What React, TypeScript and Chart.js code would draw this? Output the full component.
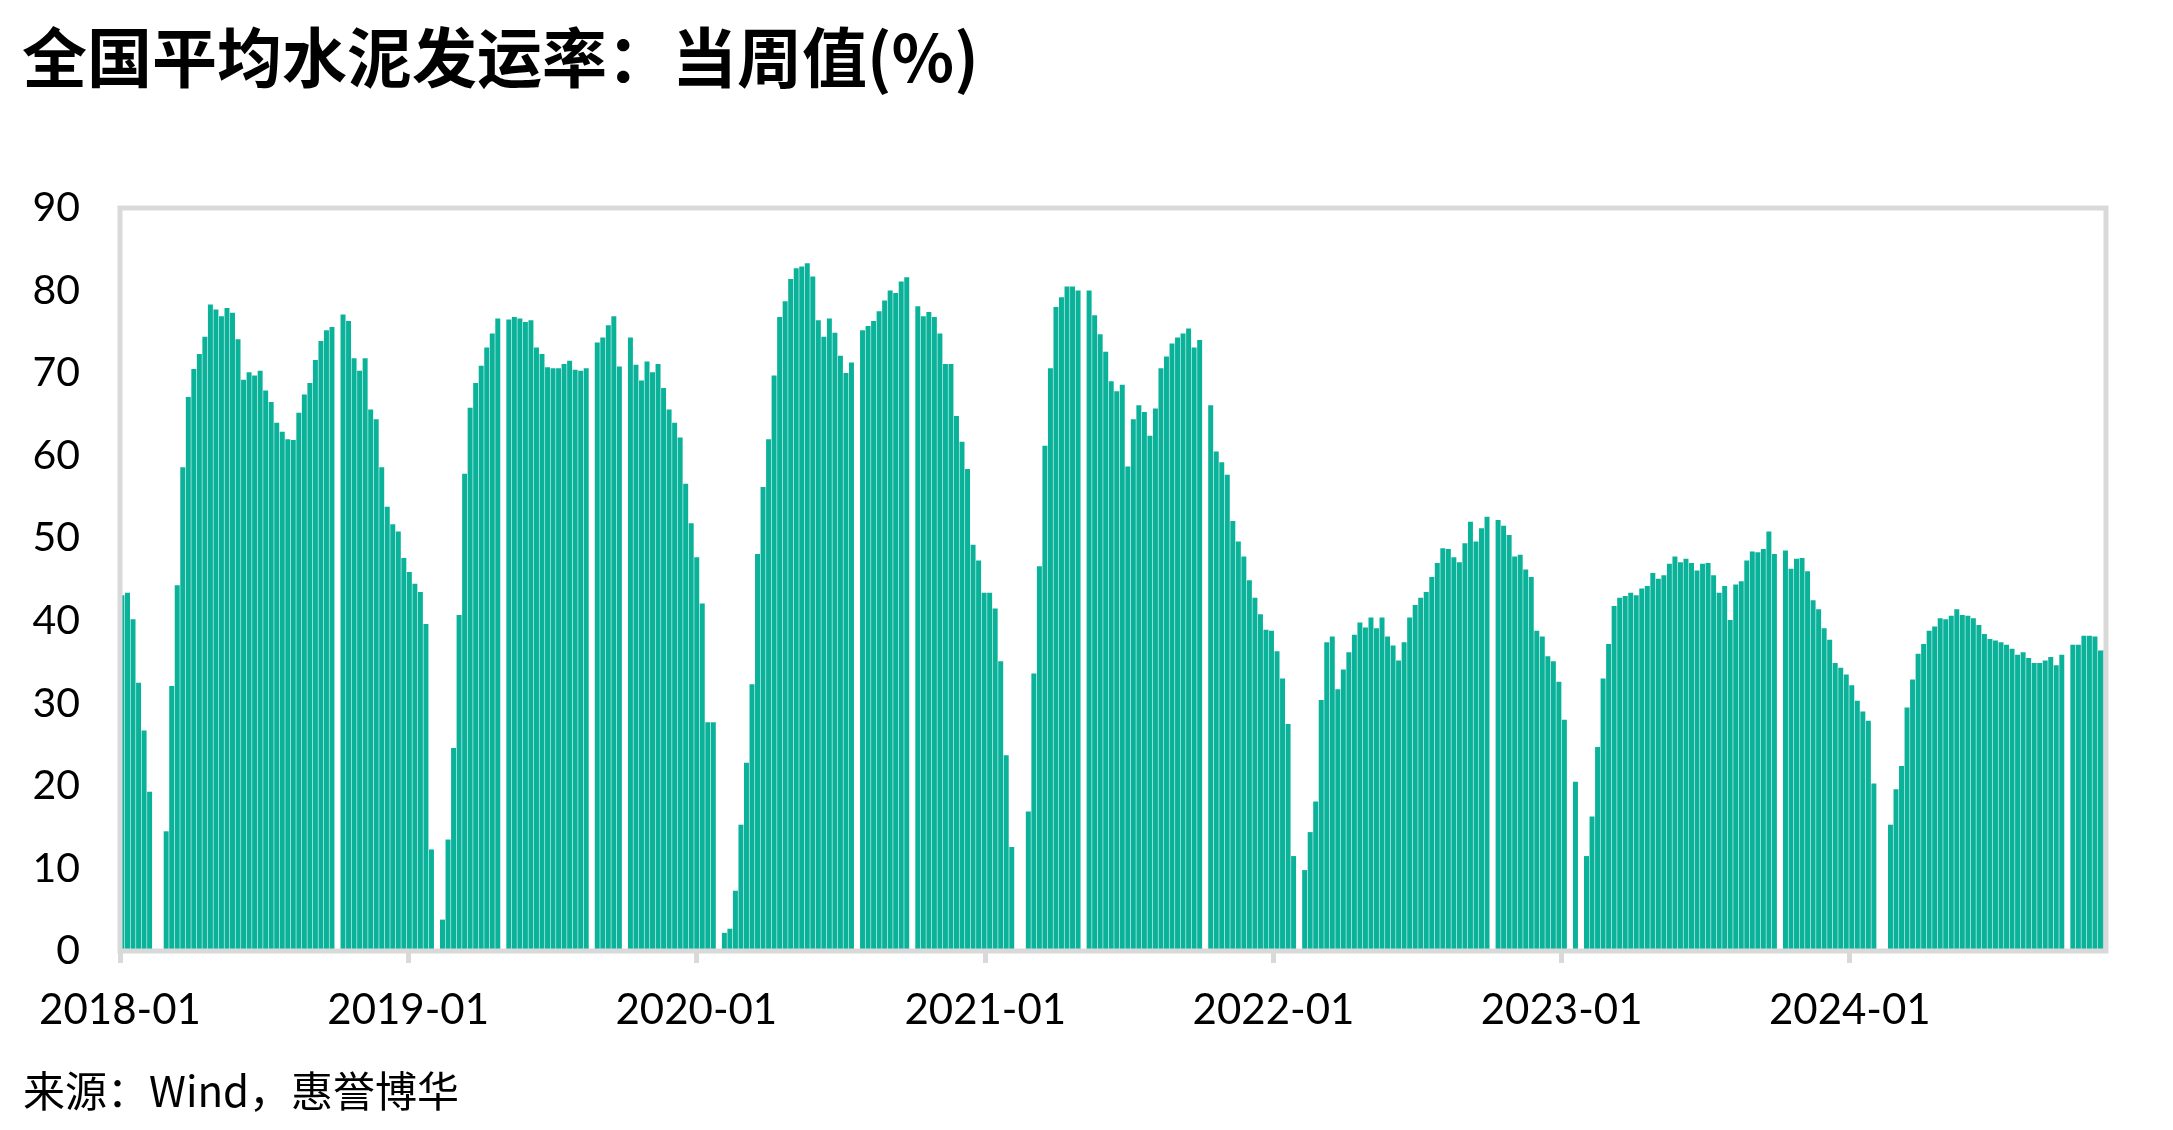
import React, { useEffect, useRef } from "react";
import { Chart, registerables } from "chart.js";

Chart.register(...registerables);

// Weekly national average cement shipment rate (%), one value per week; null = no data that week
const y2018 = [
  43.1, 43.4, 40.2, 32.5, 26.7, 19.3, null, null, 14.5, 32.1,
  44.3, 58.6, 67.1, 70.5, 72.3, 74.4, 78.3, 77.7, 76.9, 77.9,
  77.3, 74.1, 69.2, 70.1, 69.7, 70.3, 67.9, 66.5, 64.0, 62.9,
  62.0, 61.9, 65.2, 67.4, 68.8, 71.6, 73.9, 75.2, 75.6, null,
  77.1, 76.3, 71.8, 70.3, 71.8, 65.6, 64.4, 58.6, 53.8, 51.7,
  50.8, 47.6,
];
const y2019 = [
  45.9, 44.5, 43.5, 39.6, 12.3, null, 3.8, 13.5, 24.6, 40.7,
  57.8, 65.8, 68.8, 70.9, 73.1, 74.8, 76.6, null, 76.5, 76.8,
  76.6, 76.2, 76.4, 73.1, 72.3, 70.7, 70.6, 70.6, 71.1, 71.5,
  70.4, 70.3, 70.6, null, 73.7, 74.3, 75.8, 76.9, 70.8, null,
  74.3, 71.0, 69.1, 71.4, 70.1, 71.1, 68.2, 65.6, 64.0, 62.2,
  56.6, 51.8,
];
const y2020 = [
  47.7, 42.1, 27.7, 27.7, null, 2.2, 2.7, 7.3, 15.3, 22.8,
  32.3, 48.1, 56.2, 62.0, 69.7, 76.8, 78.7, 81.4, 82.7, 82.9,
  83.3, 81.7, 76.4, 74.4, 76.6, 74.9, 72.1, 70.0, 71.3, null,
  75.2, 75.7, 76.3, 77.5, 78.8, 80.0, 79.7, 81.1, 81.6, null,
  78.1, 76.9, 77.4, 76.8, 74.8, 71.1, 71.1, 64.8, 61.7, 58.4,
  49.2, 47.3,
];
const y2021 = [
  43.4, 43.4, 41.5, 35.1, 23.7, 12.6, null, null, 16.9, 33.6,
  46.6, 61.2, 70.6, 78.0, 79.2, 80.5, 80.5, 80.0, null, 80.0,
  77.0, 74.7, 72.6, 69.0, 67.8, 68.6, 58.7, 64.4, 66.1, 65.3,
  62.4, 65.7, 70.6, 72.0, 73.6, 74.3, 74.8, 75.4, 73.1, 74.0,
  null, 66.1, 60.5, 59.2, 57.7, 52.1, 49.6, 47.8, 44.9, 42.8,
  40.8, 38.9,
];
const y2022 = [
  38.8, 36.3, 33.0, 27.5, 11.5, null, 9.8, 14.4, 18.1, 30.4,
  37.4, 38.1, 31.7, 34.1, 36.2, 38.3, 39.8, 39.2, 40.4, 39.1,
  40.4, 38.1, 37.0, 35.2, 37.4, 40.4, 41.9, 42.8, 43.5, 45.3,
  47.0, 48.8, 48.7, 47.7, 47.1, 49.4, 52.0, 49.6, 51.2, 52.6,
  null, 52.2, 51.5, 50.4, 47.8, 48.0, 46.2, 45.3, 38.8, 38.1,
  35.7, 35.1,
];
const y2023 = [
  32.6, 28.0, null, 20.5, null, 11.5, 16.3, 24.7, 33.0, 37.2,
  41.8, 42.8, 43.0, 43.4, 43.1, 43.9, 44.2, 45.8, 45.1, 45.5,
  46.9, 47.8, 47.1, 47.5, 47.0, 46.1, 46.9, 47.0, 45.5, 43.4,
  44.2, 40.1, 44.4, 44.8, 47.3, 48.4, 48.3, 48.7, 50.8, 48.1,
  null, 48.5, 46.3, 47.5, 47.6, 46.0, 42.5, 41.4, 39.1, 37.7,
  34.9, 34.3,
];
const y2024 = [
  33.5, 32.2, 30.3, 29.0, 27.9, 20.3, null, null, 15.3, 19.6,
  22.4, 29.5, 32.9, 36.0, 37.2, 38.8, 39.3, 40.3, 40.2, 40.6,
  41.4, 40.7, 40.6, 40.3, 39.5, 38.4, 37.8, 37.6, 37.4, 37.1,
  36.6, 35.9, 36.2, 35.5, 34.9, 34.9, 35.2, 35.6, 34.6, 35.9,
  null, 37.1, 37.1, 38.2, 38.2, 38.1, 36.4, 36.5,
];

// x axis: days since 2018-01-01
const yearTickDays = [0, 365, 730, 1096, 1461, 1826, 2191];
const yearTickLabels = ["2018-01", "2019-01", "2020-01", "2021-01", "2022-01", "2023-01", "2024-01"];
const firstObsDay = 2.5;
const weekDays = 7;

const TITLE = "全国平均水泥发运率：当周值(%)";
const SOURCE = "来源：Wind，惠誉博华";

export default function App() {
  const ref = useRef<HTMLCanvasElement>(null);

  useEffect(() => {
    document.body.style.margin = "0";
    document.body.style.overflow = "hidden";
    const values = [...y2018, ...y2019, ...y2020, ...y2021, ...y2022, ...y2023, ...y2024];
    const points = values.map((v, i) => ({ x: firstObsDay + weekDays * i, y: v }));
    const lastX = firstObsDay + weekDays * (values.length - 1);

    const decor = {
      id: "decor",
      afterDatasetsDraw(chart: any) {
        const { ctx, chartArea: a } = chart;
        ctx.save();
        ctx.strokeStyle = "#d9d9d9";
        ctx.lineWidth = 5;
        ctx.strokeRect(a.left, a.top, a.right - a.left, a.bottom - a.top);
        ctx.restore();
      },
      afterDraw(chart: any) {
        const { ctx } = chart;
        ctx.save();
        ctx.fillStyle = "#000";
        ctx.textBaseline = "alphabetic";
        ctx.textAlign = "left";
        ctx.font = 'bold 65px "Noto Sans CJK SC"';
        ctx.fillText(TITLE, 22, 82);
        ctx.font = '42px "Noto Sans CJK SC"';
        ctx.fillText(SOURCE, 23, 1107);
        ctx.restore();
      },
    };

    const chart = new Chart(ref.current!, {
      type: "bar",
      data: {
        datasets: [
          {
            data: points as any,
            backgroundColor: "#0bb29a",
            borderWidth: 0,
            barPercentage: 0.9,
            categoryPercentage: 1,
          },
        ],
      },
      options: {
        animation: false,
        responsive: false,
        devicePixelRatio: 1,
        layout: { padding: { top: 208, right: 67, left: 0, bottom: 0 } },
        plugins: {
          legend: { display: false },
          tooltip: { enabled: false },
          title: { display: false },
        },
        scales: {
          x: {
            type: "linear",
            min: 0,
            max: lastX,
            offset: false,
            afterBuildTicks: (scale: any) => {
              scale.ticks = yearTickDays.map((v) => ({ value: v }));
            },
            afterFit: (scale: any) => {
              scale.height = 179;
            },
            ticks: {
              autoSkip: false,
              maxRotation: 0,
              padding: 22,
              color: "#000",
              font: { family: "Lato", size: 42 },
              callback: (value: any) => {
                const idx = yearTickDays.indexOf(Number(value));
                return idx >= 0 ? yearTickLabels[idx] : "";
              },
            },
            grid: {
              display: true,
              offset: false,
              drawOnChartArea: false,
              drawTicks: true,
              tickLength: 12,
              lineWidth: 5,
              color: "#d9d9d9",
            },
            border: { display: false },
          },
          y: {
            min: 0,
            max: 90,
            afterFit: (scale: any) => {
              scale.width = 120;
            },
            ticks: {
              stepSize: 10,
              padding: 40,
              color: "#000",
              font: { family: "Lato", size: 41 },
            },
            grid: { display: false, drawTicks: false },
            border: { display: false },
          },
        },
      },
      plugins: [decor],
    });
    return () => chart.destroy();
  }, []);

  return (
    <canvas
      ref={ref}
      width={2173}
      height={1130}
      style={{ display: "block", width: 2173, height: 1130 }}
    />
  );
}
